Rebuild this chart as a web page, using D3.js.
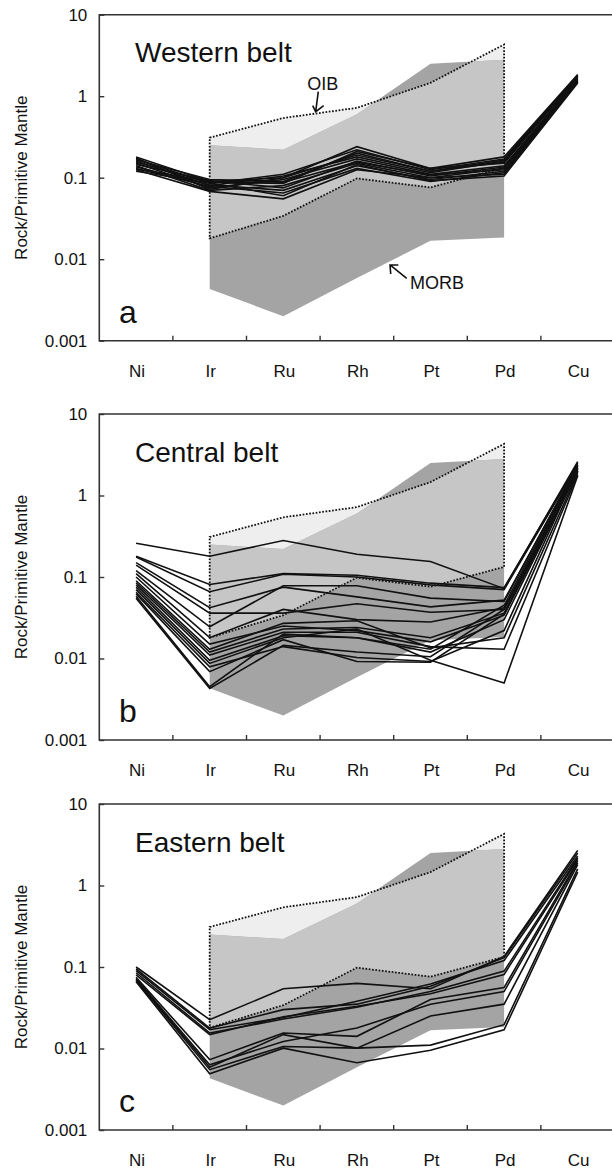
<!DOCTYPE html>
<html>
<head>
<meta charset="utf-8">
<script src="https://cdn.jsdelivr.net/npm/d3@7"></script>
<style>
body { margin: 0; background: #fff; }
text { font-family: "Liberation Sans", Arial, sans-serif; fill: #111; }
</style>
</head>
<body>
<svg id="chart" width="612" height="1169"></svg>
<script>
// element order on the x axis
const elements = ['Ni', 'Ir', 'Ru', 'Rh', 'Pt', 'Pd', 'Cu']
const fieldElements = ['Ir', 'Ru', 'Rh', 'Pt', 'Pd']
const yTicks = [10, 1, 0.1, 0.01, 0.001]

// reference fields (same in every panel)
const oibUpper = [0.31, 0.54, 0.72, 1.46, 4.3]
const oibLower = [0.018, 0.034, 0.098, 0.076, 0.133]
const morbUpper = [0.25, 0.22, 0.6, 2.5, 2.8]
const morbLower = [0.0043, 0.002, 0.0059, 0.0168, 0.0184]

// samples, values in element order Ni..Cu
const westernBelt = [
	[0.18, 0.09, 0.1, 0.24, 0.13, 0.18, 1.85],
	[0.17, 0.085, 0.11, 0.22, 0.125, 0.17, 1.8],
	[0.165, 0.095, 0.09, 0.2, 0.12, 0.165, 1.75],
	[0.16, 0.08, 0.105, 0.18, 0.115, 0.16, 1.7],
	[0.155, 0.088, 0.085, 0.21, 0.13, 0.15, 1.72],
	[0.15, 0.075, 0.095, 0.17, 0.11, 0.14, 1.65],
	[0.145, 0.092, 0.075, 0.16, 0.105, 0.135, 1.6],
	[0.14, 0.07, 0.08, 0.15, 0.1, 0.13, 1.6],
	[0.135, 0.082, 0.07, 0.14, 0.095, 0.12, 1.55],
	[0.13, 0.078, 0.065, 0.13, 0.09, 0.115, 1.5],
	[0.125, 0.068, 0.055, 0.125, 0.1, 0.11, 1.5],
	[0.12, 0.086, 0.06, 0.145, 0.092, 0.105, 1.45],
	[0.175, 0.072, 0.1, 0.19, 0.12, 0.155, 1.78],
	[0.128, 0.09, 0.088, 0.155, 0.108, 0.125, 1.55]
]
const centralBelt = [
	[0.26, 0.18, 0.28, 0.19, 0.155, 0.072, 2.6],
	[0.18, 0.081, 0.11, 0.105, 0.084, 0.074, 2.5],
	[0.176, 0.066, 0.108, 0.1, 0.08, 0.07, 2.4],
	[0.15, 0.042, 0.075, 0.057, 0.043, 0.052, 2.3],
	[0.14, 0.036, 0.036, 0.047, 0.037, 0.04, 2.2],
	[0.12, 0.0245, 0.078, 0.078, 0.055, 0.05, 2.4],
	[0.11, 0.018, 0.04, 0.03, 0.028, 0.042, 2.1],
	[0.1, 0.015, 0.025, 0.022, 0.016, 0.034, 2.0],
	[0.09, 0.013, 0.027, 0.029, 0.0135, 0.018, 1.9],
	[0.085, 0.012, 0.023, 0.024, 0.018, 0.036, 2.2],
	[0.08, 0.011, 0.021, 0.021, 0.014, 0.013, 1.8],
	[0.075, 0.0095, 0.019, 0.018, 0.012, 0.03, 2.0],
	[0.07, 0.0087, 0.018, 0.023, 0.0095, 0.005, 1.75],
	[0.065, 0.0079, 0.014, 0.0103, 0.0092, 0.022, 2.1],
	[0.062, 0.0069, 0.017, 0.0092, 0.009, 0.035, 1.95],
	[0.058, 0.0045, 0.02, 0.018, 0.013, 0.045, 2.3],
	[0.055, 0.0043, 0.0145, 0.012, 0.0105, 0.04, 2.0]
]
const easternBelt = [
	[0.1, 0.0226, 0.054, 0.063, 0.054, 0.135, 2.7],
	[0.095, 0.0178, 0.03, 0.035, 0.058, 0.13, 2.5],
	[0.09, 0.017, 0.024, 0.038, 0.062, 0.12, 2.3],
	[0.085, 0.0155, 0.023, 0.032, 0.05, 0.089, 2.2],
	[0.08, 0.0148, 0.0245, 0.033, 0.047, 0.081, 2.1],
	[0.075, 0.0073, 0.0155, 0.0141, 0.04, 0.056, 2.0],
	[0.072, 0.0063, 0.0122, 0.0178, 0.035, 0.05, 1.9],
	[0.07, 0.0059, 0.0148, 0.0101, 0.025, 0.035, 1.8],
	[0.068, 0.0055, 0.0106, 0.0101, 0.011, 0.0196, 1.6],
	[0.066, 0.0049, 0.0101, 0.0067, 0.0095, 0.017, 1.46]
]

const panels = [
	{ title: 'Western belt', letter: 'a', top: 14.7, rows: westernBelt, notes: true },
	{ title: 'Central belt', letter: 'b', top: 414, rows: centralBelt, notes: false },
	{ title: 'Eastern belt', letter: 'c', top: 804, rows: easternBelt, notes: false }
]

const left = 99.3
const bandW = 73.6
const h = 326

const svg = d3.select('#chart')
const defs = svg.append('defs')

panels.forEach((p, pi) => {
	const bottom = p.top + h
	const x = d3.scaleBand().domain(elements).range([left, left + bandW * elements.length])
	const y = d3.scaleLog().domain([0.001, 10]).range([bottom, p.top])
	const xc = d => x(d) + x.bandwidth() / 2

	const lineGen = d3.line()
		.x(d => xc(d.el))
		.y(d => y(d.v))

	const fieldPts = (up, lo) => fieldElements.map((e, i) => ({ el: e, v: up[i] }))
		.concat(fieldElements.map((e, i) => ({ el: e, v: lo[i] })).reverse())

	const oibPath = lineGen(fieldPts(oibUpper, oibLower)) + 'Z'
	const morbPath = lineGen(fieldPts(morbUpper, morbLower)) + 'Z'

	defs.append('clipPath').attr('id', 'oib-clip-' + pi)
		.append('path').attr('d', oibPath)

	const g = svg.append('g')

	g.append('path').attr('d', oibPath).attr('fill', '#eeeeee')
	g.append('path').attr('d', morbPath).attr('fill', '#a4a4a4')
	g.append('path').attr('d', morbPath).attr('fill', '#c6c6c6')
		.attr('clip-path', 'url(#oib-clip-' + pi + ')')

	g.append('path').attr('d', oibPath)
		.attr('fill', 'none')
		.attr('stroke', '#111')
		.attr('stroke-width', 1.8)
		.attr('stroke-dasharray', '1.7,1.6')

	g.selectAll('path.sample')
		.data(p.rows)
		.enter().append('path')
		.attr('class', 'sample')
		.attr('d', row => lineGen(elements.map((e, i) => ({ el: e, v: row[i] }))))
		.attr('fill', 'none')
		.attr('stroke', '#111')
		.attr('stroke-width', 1.6)
		.attr('stroke-linejoin', 'miter')

	// frame
	const right = left + bandW * elements.length
	g.append('path')
		.attr('d', `M${right},${p.top}H${left}V${bottom}H${right}`)
		.attr('fill', 'none')
		.attr('stroke', '#333')
		.attr('stroke-width', 1.6)

	// y axis
	const yAxis = g.append('g')
		.attr('transform', `translate(${left},0)`)
		.call(d3.axisLeft(y).tickValues(yTicks).tickSize(-5).tickPadding(12)
			.tickFormat(d => String(d)))
	yAxis.select('.domain').remove()
	yAxis.selectAll('line').attr('stroke', '#333').attr('stroke-width', 1.4)
	yAxis.selectAll('text').style('font-size', '17px').attr('fill', '#111')

	// x axis labels
	const xAxis = g.append('g')
		.attr('transform', `translate(1,${bottom})`)
		.call(d3.axisBottom(x).tickSize(0).tickPadding(24))
	xAxis.select('.domain').remove()
	xAxis.selectAll('text').style('font-size', '17px').attr('fill', '#111')

	// ticks between elements
	g.selectAll('line.xtick')
		.data(elements.slice(1))
		.enter().append('line')
		.attr('class', 'xtick')
		.attr('x1', d => x(d)).attr('x2', d => x(d))
		.attr('y1', bottom).attr('y2', bottom - 5)
		.attr('stroke', '#333').attr('stroke-width', 1.4)

	g.append('text')
		.attr('transform', `translate(27,${p.top + h / 2}) rotate(-90)`)
		.attr('text-anchor', 'middle')
		.style('font-size', '17px')
		.text('Rock/Primitive Mantle')

	g.append('text')
		.attr('x', 135).attr('y', p.top + 47.5)
		.style('font-size', '28px')
		.text(p.title)

	g.append('text')
		.attr('x', 119).attr('y', bottom - 18)
		.style('font-size', '32px')
		.text(p.letter)

	if (p.notes) {
		// OIB label and arrow
		const ox = xc('Ru') + 0.44 * bandW
		const oy = y(0.645)
		g.append('text')
			.attr('x', ox + 7).attr('y', y(1.19))
			.attr('text-anchor', 'middle')
			.style('font-size', '18px')
			.text('OIB')
		g.append('path')
			.attr('d', `M${ox + 2.6},${oy - 20}L${ox},${oy}M${ox - 3},${oy - 6}L${ox},${oy}L${ox + 8},${oy - 6}`)
			.attr('fill', 'none').attr('stroke', '#111').attr('stroke-width', 1.6)

		// MORB label and arrow
		const mx = xc('Rh') + 0.45 * bandW
		const my = y(0.0085)
		g.append('text')
			.attr('x', mx + 20).attr('y', y(0.0043))
			.style('font-size', '18px')
			.text('MORB')
		g.append('path')
			.attr('d', `M${mx + 16.7},${my + 13.3}L${mx},${my}M${mx + 0.7},${my + 9}L${mx},${my}L${mx + 8.3},${my}`)
			.attr('fill', 'none').attr('stroke', '#111').attr('stroke-width', 1.6)
	}
})
</script>
</body>
</html>
